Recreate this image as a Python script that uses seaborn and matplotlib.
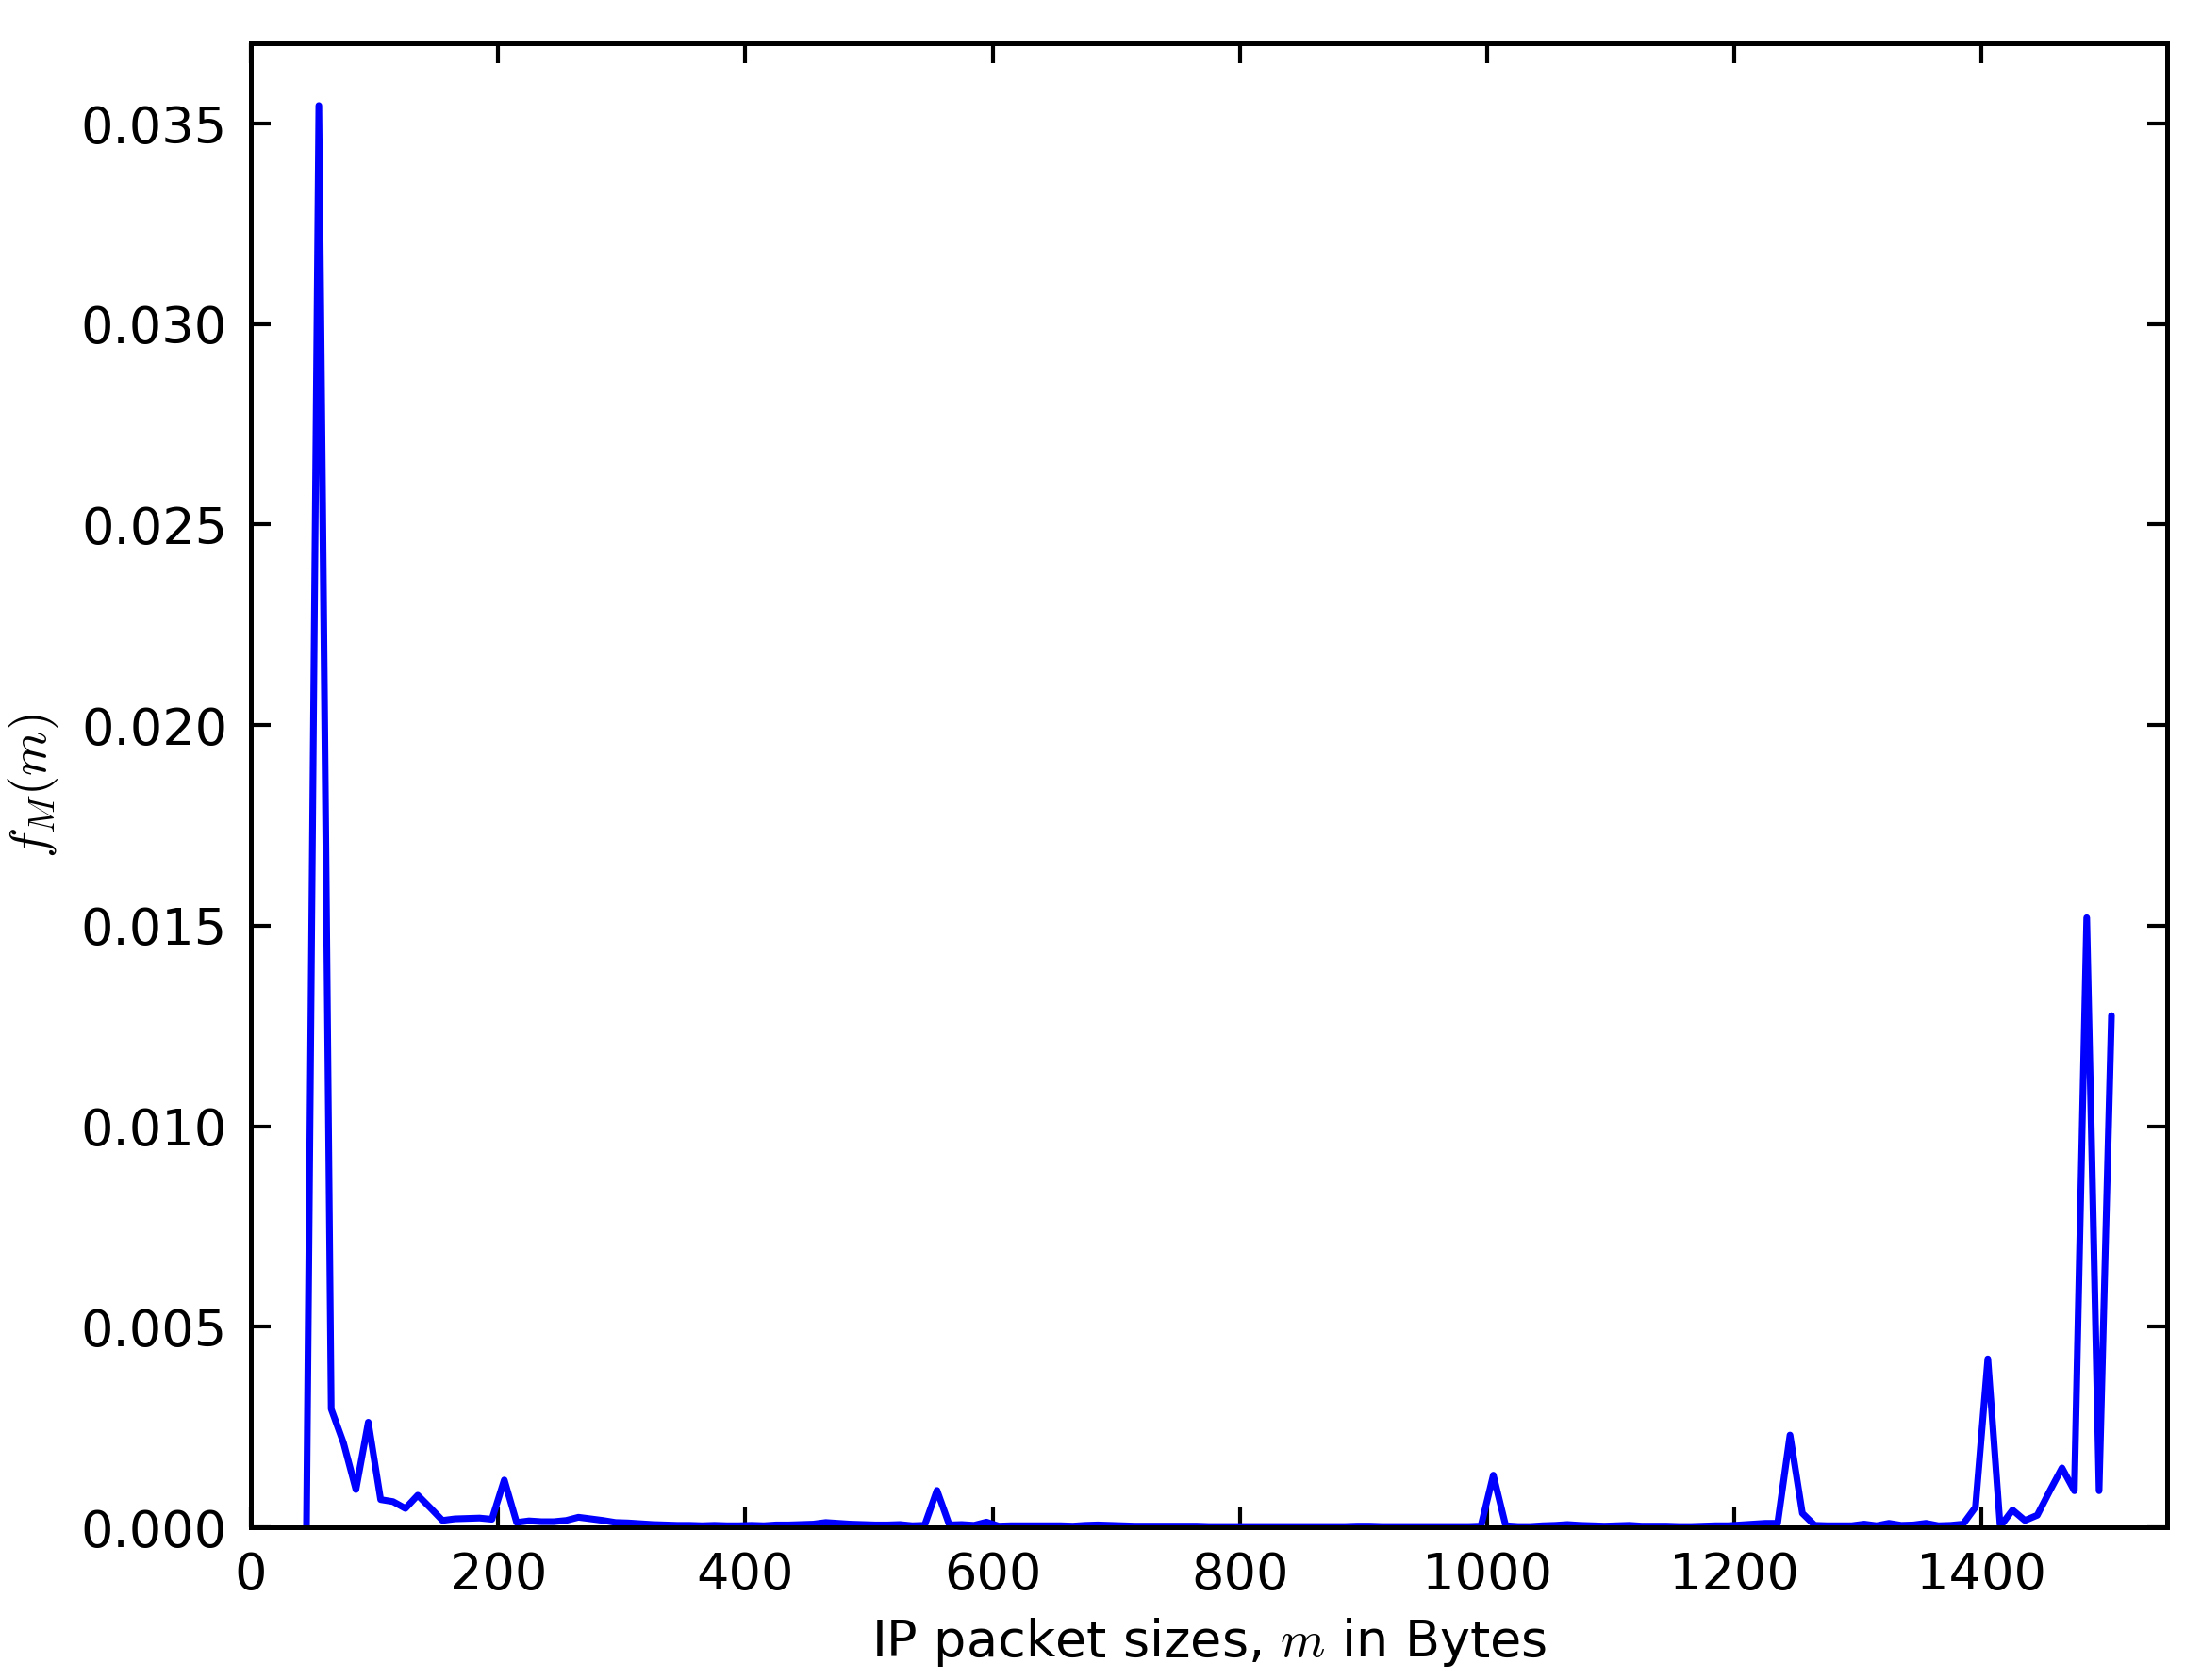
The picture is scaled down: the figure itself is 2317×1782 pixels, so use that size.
import numpy as np
import pandas as pd
import matplotlib
matplotlib.use("Agg")
import matplotlib.pyplot as plt
from matplotlib.ticker import FormatStrFormatter
import seaborn as sns

# bin centres of the packet size histogram (10 byte bins)
sizes = np.arange(45, 1506, 10)

# estimated pmf f_M(m) per bin
pmf = [
    0.0, 0.03545, 0.00295, 0.0021, 0.00094, 0.00262, 0.00069, 0.00064, 0.00047, 0.0008,
    0.00049, 0.00017, 0.00021, 0.00022, 0.00023, 0.0002, 0.00118, 0.00012, 0.00016, 0.00014,
    0.00014, 0.00017, 0.00025, 0.00021, 0.00017, 0.00012, 0.00011, 0.00009, 0.00007, 0.00006,
    0.00005, 0.00005, 0.00004, 0.00005, 0.00004, 0.00004, 0.00005, 0.00004, 0.00006, 0.00006,
    0.00007, 0.00008, 0.00012, 0.0001, 0.00008, 0.00007, 0.00006, 0.00006, 0.00007, 0.00004,
    0.00005, 0.00092, 0.00006, 0.00007, 0.00005, 0.00013, 0.00003, 0.00004, 0.00004, 0.00004,
    0.00004, 0.00004, 0.00003, 0.00005, 0.00006, 0.00005, 0.00004, 0.00003, 0.00003, 0.00003,
    0.00003, 0.00003, 0.00003, 0.00002, 0.00002, 0.00002, 0.00002, 0.00002, 0.00002, 0.00002,
    0.00002, 0.00002, 0.00002, 0.00002, 0.00002, 0.00003, 0.00003, 0.00002, 0.00002, 0.00002,
    0.00002, 0.00002, 0.00002, 0.00002, 0.00002, 0.00003, 0.0013, 0.00004, 0.00002, 0.00002,
    0.00004, 0.00005, 0.00007, 0.00005, 0.00004, 0.00003, 0.00004, 0.00005, 0.00003, 0.00003,
    0.00003, 0.00002, 0.00002, 0.00003, 0.00004, 0.00004, 0.00006, 0.00008, 0.0001, 0.0001,
    0.0023, 0.00035, 0.00005, 0.00004, 0.00004, 0.00004, 0.00008, 0.00004, 0.0001, 0.00005,
    0.00006, 0.0001, 0.00004, 0.00005, 0.00008, 0.0005, 0.0042, 0.00002, 0.00043, 0.00017,
    0.0003, 0.0009, 0.00148, 0.00091, 0.0152, 0.00091, 0.01276,
]

df = pd.DataFrame({"m": sizes, "f": pmf})

sns.set_style("ticks")
plt.rcParams["font.family"] = ["DejaVu Sans"]
plt.rcParams["mathtext.fontset"] = "cm"
plt.rcParams["text.color"] = "black"
plt.rcParams["axes.labelcolor"] = "black"

fig = plt.figure(figsize=(2317 / 300, 1782 / 300), dpi=300)
ax = fig.add_axes([266 / 2317, 1 - 1620 / 1782, (2298 - 266) / 2317, (1620 - 46) / 1782])

sns.lineplot(data=df, x="m", y="f", color="#0000ff", linewidth=1.7, ax=ax)

ax.set_xlim(0, 1550)
ax.set_ylim(0, 0.037)
ax.set_xticks(np.arange(0, 1401, 200))
ax.set_yticks(np.arange(0, 0.0351, 0.005))
ax.yaxis.set_major_formatter(FormatStrFormatter("%.3f"))

ax.tick_params(direction="in", top=True, right=True, length=5, width=1,
               pad=6, labelsize=13, colors="black")
for s in ax.spines.values():
    s.set_visible(True)
    s.set_linewidth(1.2)
    s.set_color("black")

ax.set_xlabel("IP packet sizes, $m$ in Bytes", fontsize=13, labelpad=4)
ax.set_ylabel("$f_M(m)$", fontsize=13, labelpad=5)

fig.savefig("out.png", dpi=300)
